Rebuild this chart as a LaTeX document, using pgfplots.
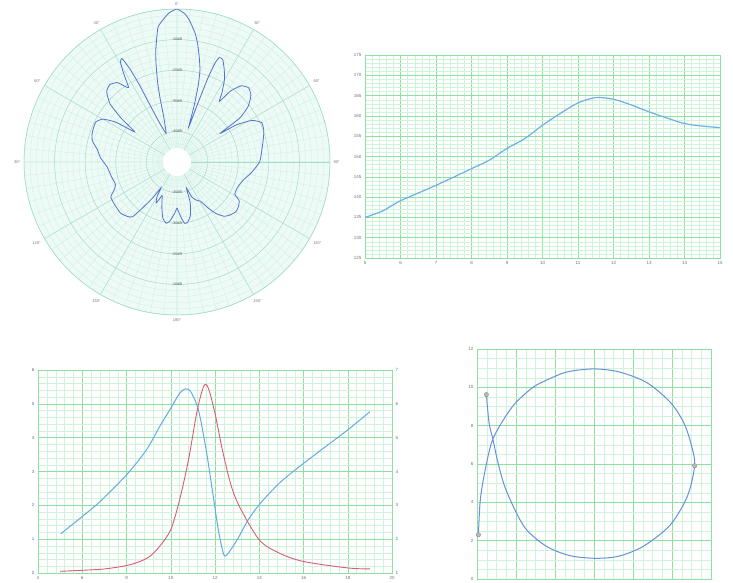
\documentclass[border=0pt]{standalone}
\usepackage{fontspec}
\setmainfont{Liberation Sans}
\usepackage{pgfplots}
\pgfplotsset{compat=1.18}
\usepgfplotslibrary{polar}
\usepackage{pgfplotstable}

\definecolor{gridmajor}{RGB}{140,225,160}
\definecolor{gridminor}{RGB}{208,244,218}
\definecolor{polmajor}{RGB}{160,222,200}
\definecolor{polminor}{RGB}{198,237,224}
\definecolor{polbg}{RGB}{238,250,246}
\definecolor{polblue}{RGB}{85,115,205}
\definecolor{topblue}{RGB}{110,175,230}
\definecolor{blblue}{RGB}{100,170,225}
\definecolor{blred}{RGB}{220,90,115}
\definecolor{brblue}{RGB}{100,145,215}

% radiation pattern, angle from boresight (deg) and level (dB)
\pgfplotstableread{
t db
-180 -35
-177 -33
-173 -30.5
-170 -29.7
-166 -31
-162 -34
-158 -37
-156 -38
-153 -35
-150 -37
-148 -40
-146 -36
-143 -31
-141 -27
-138 -26
-135 -25.5
-132 -25.1
-125 -25.3
-118 -25.5
-114 -27.5
-110 -28.6
-102 -28
-94 -27.1
-87 -25
-81 -23.6
-76 -21.5
-71 -20.7
-64 -20.4
-60 -22
-57 -26
-54.5 -33
-52 -27
-49 -21
-45 -17.5
-41 -16.5
-37 -17.5
-34.5 -20
-33 -21
-31 -16
-29.5 -12.5
-28 -11.7
-26.8 -16
-26 -22
-25.3 -30
-24 -36
-21 -40
-18.5 -38
-16.3 -34.4
-15 -29
-13.7 -23.3
-12 -17
-10.6 -12.4
-8 -5.5
-5 -2.8
-3 -1.2
0 0
3 -1.5
5 -3.5
8 -7.5
10 -11
12 -15
14 -19
15.5 -24
17 -31
18.5 -38
19.5 -30
20.2 -21
21 -15.5
22 -13.2
24 -13.3
27 -16
30 -19
33 -23
35 -25.8
37 -21
40 -17.5
44 -16.3
48 -17.5
52 -20.5
55 -25
56.5 -33
58 -27
61 -22
65 -19.5
70 -19.8
75 -20.8
82 -22
90 -23
98 -25.4
105 -27.5
112 -28.5
119 -28.4
122 -26
126 -25.2
130 -24.8
135 -25.5
139 -26.5
143 -29
146 -32
149 -35
153 -36
157 -37.5
160 -41
162 -36
166 -32
170 -30
173 -29.8
176 -32
180 -35
}\polardata

\pgfplotsset{
  sheet/.style={
    scale only axis, anchor=south west, grid=both,
    major grid style={draw=gridmajor, line width=0.45pt},
    minor grid style={draw=gridminor, line width=0.3pt},
    axis line style={draw=gridmajor, line width=0.5pt},
    tick style={draw=none},
    ticklabel style={font=\fontsize{4.5}{5}\selectfont, text=black!55},
    /pgf/number format/assume math mode=true,
  },
}
\tikzset{dblabel/.style={font=\fontsize{3.8}{4}\selectfont, text=black!65, inner sep=0.5pt}}

\begin{document}
\begin{tikzpicture}
\path[use as bounding box] (0pt,0pt) rectangle (733pt,582pt);

% polar pattern
\begin{polaraxis}[
  at={(177pt,420pt)}, anchor=center, scale only axis,
  width=306pt, height=306pt,
  xmin=0, xmax=360, ymin=0, ymax=50,
  xtick={0,30,...,330},
  xticklabels={90°,60°,30°,0°,30°,60°,90°,120°,150°,180°,150°,120°},
  minor xtick={0,5,...,355},
  ytick={10,20,30,40,50}, yticklabels={},
  minor ytick={2,4,...,48},
  grid=both,
  major grid style={draw=polmajor, line width=0.4pt},
  minor grid style={draw=polminor, line width=0.25pt},
  axis line style={draw=polmajor, line width=0.5pt},
  axis background/.style={fill=polbg},
  tick style={draw=none},
  xticklabel style={font=\fontsize{4}{5}\selectfont, text=black!55},
]
\addplot[polblue, line width=0.8pt, smooth, tension=0.3]
  table[x expr=90-\thisrow{t}, y expr=\thisrow{db}+50] {\polardata};
\fill[white] (axis cs:0,0) circle[radius=14pt];
\node[dblabel] at (axis cs:90,40) {-10dB};
\node[dblabel] at (axis cs:90,30) {-20dB};
\node[dblabel] at (axis cs:90,20) {-30dB};
\node[dblabel] at (axis cs:90,10) {-40dB};
\node[dblabel] at (axis cs:270,40) {-10dB};
\node[dblabel] at (axis cs:270,30) {-20dB};
\node[dblabel] at (axis cs:270,20) {-30dB};
\node[dblabel] at (axis cs:270,10) {-40dB};
\end{polaraxis}

% top right
\begin{axis}[sheet,
  at={(365pt,324pt)}, width=355pt, height=203pt,
  xmin=5, xmax=15, ymin=125, ymax=175,
  xtick={5,...,15}, ytick={125,130,...,175},
  minor x tick num=4, minor y tick num=4,
]
\addplot[topblue, line width=1.2pt, smooth] coordinates {
  (5,135.0) (5.5,136.6) (6,139.1) (7,142.9) (8,147.0) (8.5,149.1)
  (9,152.0) (9.5,154.4) (10,157.7) (10.5,160.6) (11,163.2) (11.5,164.5)
  (12,164.1) (12.5,162.7) (13,161.0) (13.5,159.5) (14,158.1) (14.5,157.5)
  (15,157.1)
};
\end{axis}

% bottom left
\begin{axis}[sheet,
  at={(38pt,9pt)}, width=354pt, height=203pt,
  xmin=4, xmax=20, ymin=0, ymax=6,
  xtick={4,6,...,20}, ytick={0,...,6},
  minor x tick num=4, minor y tick num=4,
]
\addplot[blblue, line width=1pt, smooth] coordinates {
  (5.03,1.16) (6,1.67) (6.8,2.11) (8,2.9) (8.9,3.64) (9.5,4.33)
  (10,4.87) (10.4,5.31) (10.65,5.44) (10.9,5.36) (11.25,4.82)
  (11.6,3.64) (11.9,2.36) (12.15,1.28) (12.4,0.54) (12.6,0.59)
  (13.0,0.98) (13.5,1.57) (14,2.02) (14.9,2.65) (16,3.24) (18,4.23)
  (19,4.77)
};
\addplot[blred, line width=0.9pt, smooth] coordinates {
  (5,0.05) (6,0.08) (7,0.12) (8,0.22) (8.6,0.34) (9.05,0.49) (9.5,0.79)
  (10,1.28) (10.4,2.16) (10.8,3.34) (11.2,4.82) (11.5,5.53) (11.7,5.46)
  (12,4.72) (12.3,3.74) (12.7,2.65) (13.1,1.97) (14,0.98) (14.9,0.59)
  (16,0.34) (18,0.15) (19,0.12)
};
\end{axis}
\begin{axis}[
  scale only axis, anchor=south west,
  at={(38pt,9pt)}, width=354pt, height=203pt,
  xmin=4, xmax=20, ymin=1, ymax=7,
  axis x line=none, axis y line*=right,
  ytick={1,...,7},
  axis line style={draw=gridmajor, line width=0.5pt},
  tick style={draw=none},
  ticklabel style={font=\fontsize{4.5}{5}\selectfont, text=black!55},
  /pgf/number format/assume math mode=true,
]
\addplot[draw=none] coordinates {(4,1)};
\end{axis}

% bottom right
\begin{axis}[sheet,
  at={(477pt,3pt)}, width=234pt, height=230pt,
  xmin=0, xmax=12, ymin=0, ymax=12,
  xtick={0,2,...,12}, ytick={0,2,...,12}, xticklabels={},
  minor x tick num=3, minor y tick num=3,
]
\addplot[brblue, line width=1pt, smooth] coordinates {
  (0.48,9.62) (0.62,8.14) (0.82,7.27) (1.08,6.05) (1.42,4.83) (1.94,3.62)
  (2.54,2.57) (3.57,1.7) (4.76,1.22) (6.1,1.08) (7.3,1.2) (8.55,1.72)
  (9.91,2.82) (10.79,4.32) (11.16,5.91) (11.02,6.88) (10.62,8.12)
  (9.91,9.22) (8.7,10.25) (7.3,10.8) (6.0,10.96) (4.6,10.8) (3.45,10.32)
  (2.8,9.95) (1.9,9.1) (1.2,8.05) (0.74,7.1) (0.39,5.53) (0.17,4.14)
  (0.07,2.31)
};
\addplot[only marks, mark=*, mark size=2.2pt, mark options={fill=gray!55, draw=gray!90}]
  coordinates {(0.48,9.62) (11.16,5.91) (0.07,2.31)};
\end{axis}
\end{tikzpicture}
\end{document}
